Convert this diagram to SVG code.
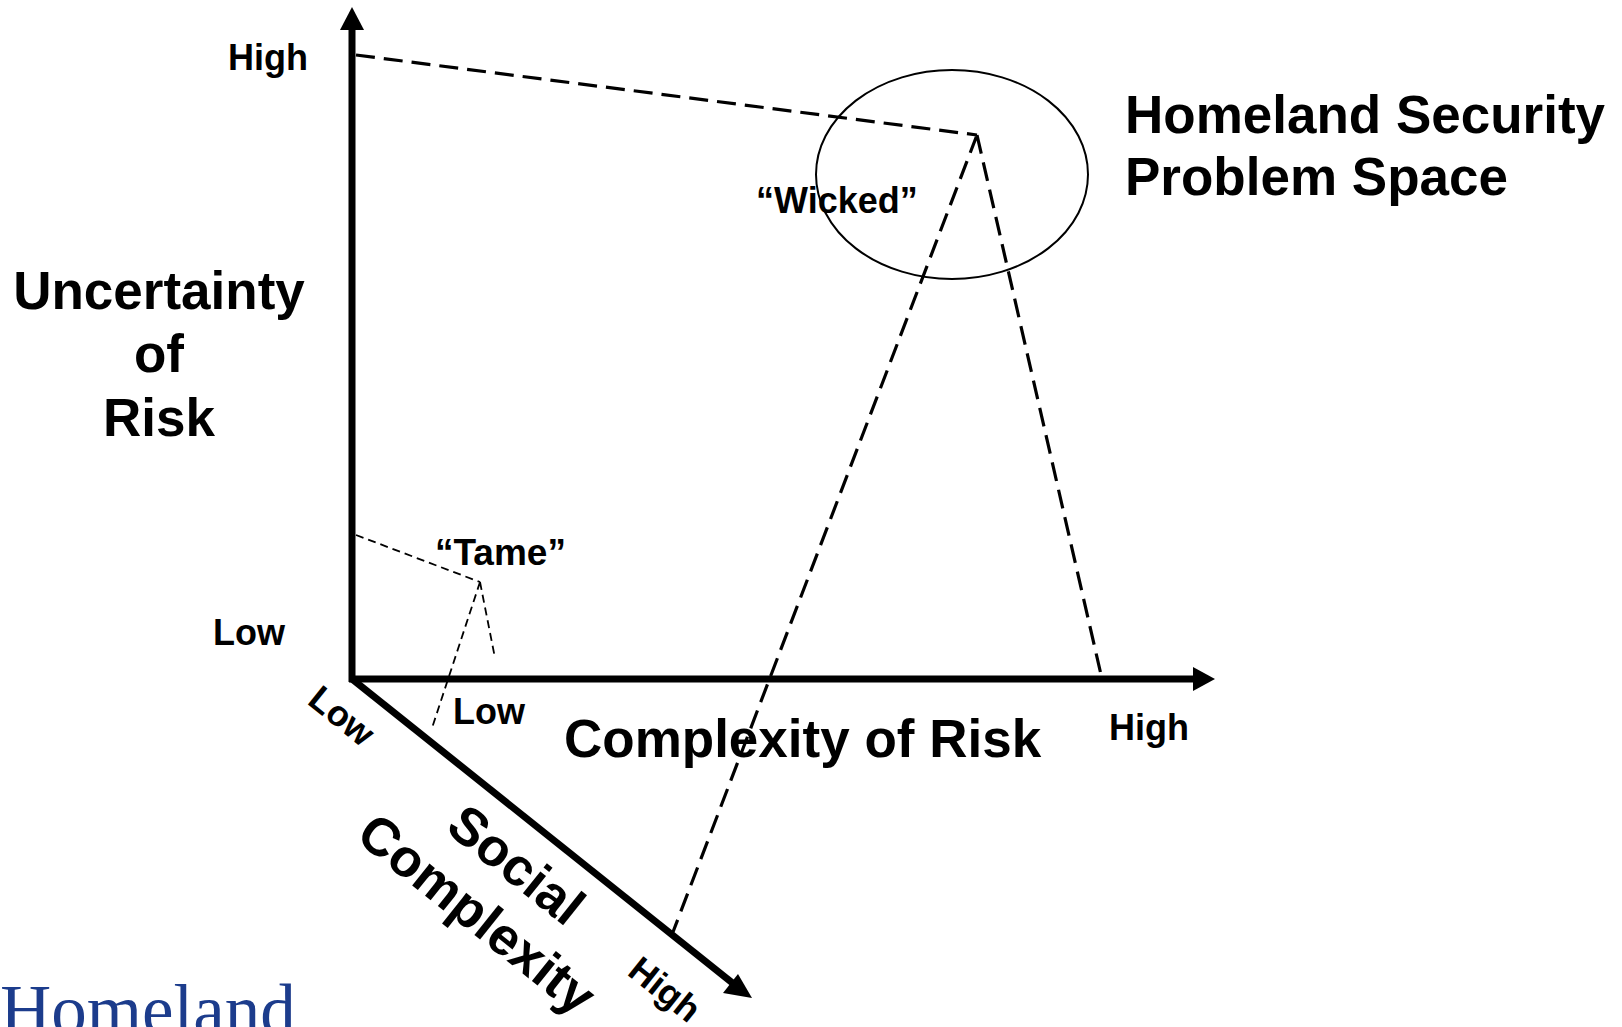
<svg xmlns="http://www.w3.org/2000/svg" width="1622" height="1027" viewBox="0 0 1622 1027">
<style>
text{font-family:"Liberation Sans",Arial,sans-serif;font-weight:bold;fill:#000}
.big{font-size:53px}
.sm{font-size:36px}
.axis{stroke:#000;stroke-width:7;fill:none}
.dash{stroke:#000;stroke-width:3.2;fill:none;stroke-dasharray:19 9}
.tdash{stroke:#000;stroke-width:1.8;fill:none;stroke-dasharray:8 5}
</style>
<rect width="1622" height="1027" fill="#fff"/>
<g id="connectors">
<path class="dash" d="M356 55 L977 135 M977 135 L1102 679 M977 135 L673 932"/>
<path class="tdash" d="M356 535 L480 582 M480 582 L495 658 M480 582 L432 728"/>
<line class="axis" x1="352" y1="682" x2="352" y2="28"/>
<polygon points="352,7 340,30 364,30"/>
<line class="axis" x1="349" y1="679" x2="1195" y2="679"/>
<polygon points="1215,679 1193,667 1193,691"/>
<line class="axis" x1="352" y1="679" x2="735" y2="985"/>
<polygon points="752,998 723,993 738,974"/>
</g>
<g id="wicked-ellipse"><ellipse cx="952" cy="174.5" rx="136" ry="104.5" fill="none" stroke="#000" stroke-width="2"/></g>
<g id="y-axis-label"><text class="big" text-anchor="middle" x="159" y="309">Uncertainty</text><text class="big" text-anchor="middle" x="159" y="372">of</text><text class="big" text-anchor="middle" x="159" y="436">Risk</text></g>
<g id="x-axis-label"><text class="big" x="564" y="757">Complexity of Risk</text></g>
<g id="problem-space"><text class="big" x="1125" y="133">Homeland Security</text><text class="big" x="1125" y="195">Problem Space</text></g>
<g id="y-high"><text class="sm" text-anchor="end" x="308" y="70">High</text></g>
<g id="y-low"><text class="sm" x="213" y="645">Low</text></g>
<g id="x-low"><text class="sm" x="453" y="724">Low</text></g>
<g id="x-high"><text class="sm" x="1109" y="740">High</text></g>
<g id="tame"><text class="sm" x="435" y="565" style="font-size:37px">“Tame”</text></g>
<g id="wicked"><text class="sm" x="756" y="213">“Wicked”</text></g>
<g id="z-low"><text class="sm" transform="translate(306,703) rotate(38.6)">Low</text></g>
<g id="z-high"><text class="sm" transform="translate(626,974) rotate(38.6)">High</text></g>
<g id="z-axis-label" transform="translate(505,879) rotate(38.6)"><text class="big" text-anchor="middle" x="0" y="0">Social</text><text class="big" text-anchor="middle" x="0" y="63">Complexity</text></g>
<g id="logo"><text x="0" y="1034" style="font-family:'Liberation Serif','Times New Roman',serif;font-weight:normal;font-size:71px;fill:#1c3c8c">Homeland</text></g>
</svg>
